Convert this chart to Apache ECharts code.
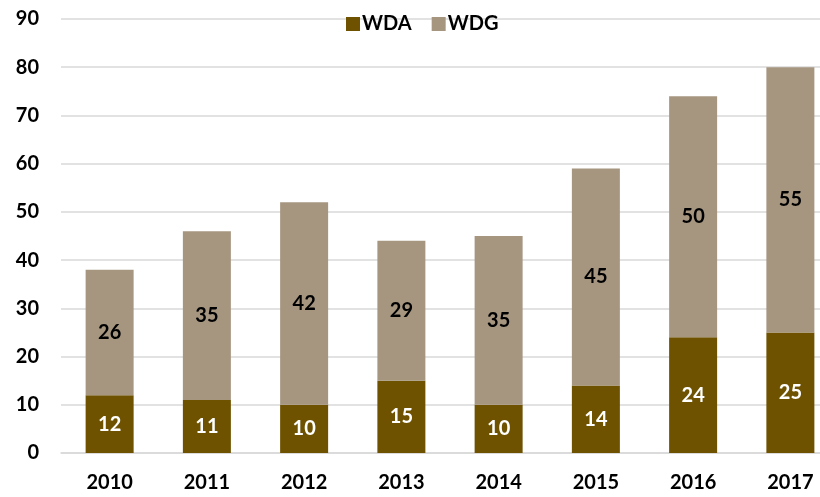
<!DOCTYPE html>
<html><head><meta charset="utf-8">
<script src="https://cdn.jsdelivr.net/npm/echarts@6/dist/echarts.min.js"></script>
<style>html,body{margin:0;padding:0;background:#fff;overflow:hidden;width:820px;height:497px}#c{width:840px;height:497px}</style>
</head><body><div id="c"></div>
<script>
const categories = ['2010','2011','2012','2013','2014','2015','2016','2017'];
const wda = [12, 11, 10, 15, 10, 14, 24, 25];
const wdg = [26, 35, 42, 29, 35, 45, 50, 55];
const yTicks = [0, 90, 10];

const font = 'Lato, "Open Sans", sans-serif';
const chart = echarts.init(document.getElementById('c'));
chart.setOption({
  animation: false,
  textStyle: {fontFamily: font},
  legend: {
    data: ['WDA', 'WDG'],
    top: 14, left: 346, padding: 0,
    itemWidth: 14, itemHeight: 14, itemGap: 20,
    icon: 'rect',
    textStyle: {fontFamily: font, fontWeight: 'bold', fontSize: 20, color: '#000', padding: [0,0,0,-3]}
  },
  grid: {left: 61, right: 1, top: 19, bottom: 44, containLabel: false},
  xAxis: {
    type: 'category', data: categories,
    axisTick: {show: false},
    axisLine: {lineStyle: {color: '#d9d9d9', width: 1.5}},
    axisLabel: {fontFamily: font, fontWeight: 'bold', fontSize: 20, color: '#000', margin: 20}
  },
  yAxis: {
    type: 'value', min: yTicks[0], max: yTicks[1], interval: yTicks[2],
    axisLine: {show: false}, axisTick: {show: false},
    splitLine: {lineStyle: {color: '#d9d9d9', width: 1.5}},
    axisLabel: {fontFamily: font, fontWeight: 'bold', fontSize: 20, color: '#000', margin: 22}
  },
  series: [
    {name: 'WDA', type: 'bar', stack: 's', data: wda, barWidth: 48,
     itemStyle: {color: '#6E5200'},
     label: {show: true, position: 'inside', color: '#fff', fontFamily: font, fontWeight: 'bold', fontSize: 20}},
    {name: 'WDG', type: 'bar', stack: 's', data: wdg, barWidth: 48,
     itemStyle: {color: '#A69680'},
     label: {show: true, position: 'inside', color: '#000', fontFamily: font, fontWeight: 'bold', fontSize: 20}}
  ]
});
</script></body></html>
